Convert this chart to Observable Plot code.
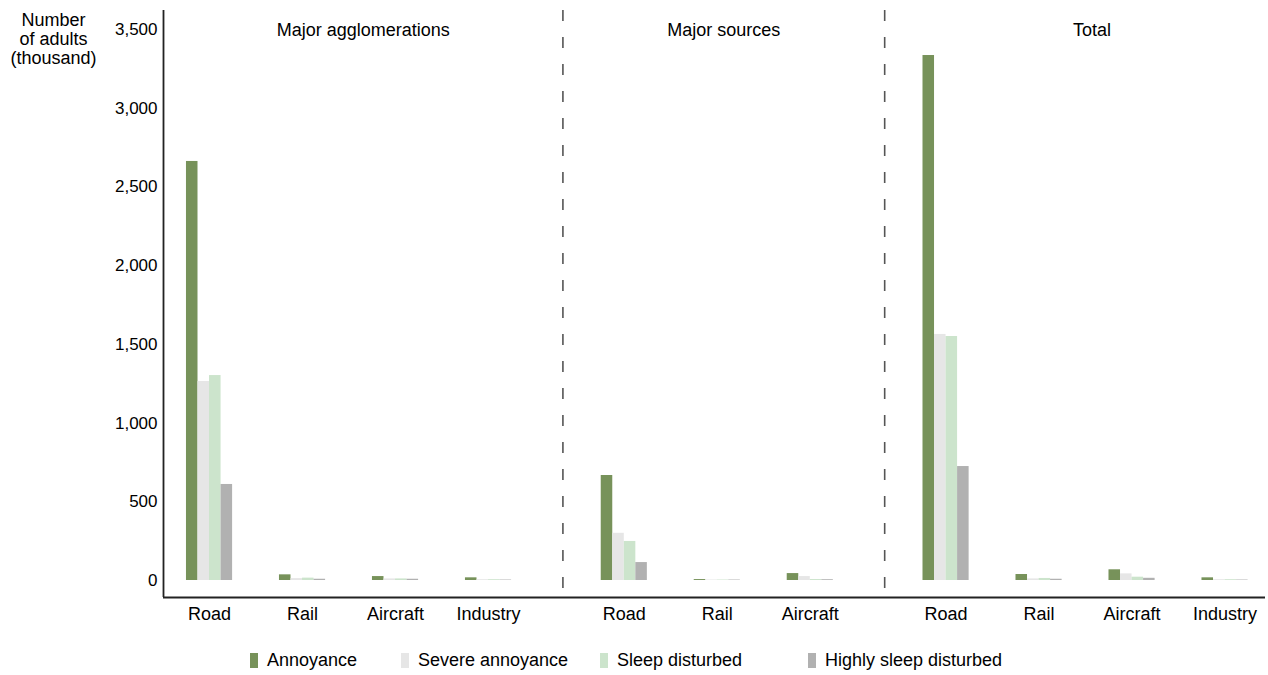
<!DOCTYPE html>
<html>
<head>
<meta charset="utf-8">
<script src="https://cdn.jsdelivr.net/npm/d3@7"></script>
<script src="https://cdn.jsdelivr.net/npm/@observablehq/plot@0.6"></script>
<style>
  html, body { margin: 0; padding: 0; background: #fff; }
  body { width: 1268px; height: 675px; overflow: hidden; font-family: "Liberation Sans", Arial, sans-serif; }
  #chart { position: relative; width: 1268px; }
  #legend { position: relative; height: 35px; width: 1268px; font-size: 18px; color: #000; }
  .item { position: absolute; top: 10px; display: flex; align-items: center; white-space: nowrap; }
  .sw { width: 8px; height: 15px; margin-right: 9px; }
</style>
</head>
<body>
<div id="chart"></div>
<div id="legend"></div>
<script>
// ---- data ----
const groups = ["Major agglomerations", "Major sources", "Total"];
const groupCategories = [
  ["Road", "Rail", "Aircraft", "Industry"],
  ["Road", "Rail", "Aircraft"],
  ["Road", "Rail", "Aircraft", "Industry"]
];
const series = ["Annoyance", "Severe annoyance", "Sleep disturbed", "Highly sleep disturbed"];
const colors = ["#77925a", "#e6e6e6", "#cce4cc", "#b1b1b1"];
// values in thousand, order: agglomerations (Road, Rail, Aircraft, Industry), sources (Road, Rail, Aircraft), total (Road, Rail, Aircraft, Industry)
const annoyance        = [2662, 36, 25, 17,  667, 6, 44,  3335, 38, 68, 17];
const severeAnnoyance  = [1264, 12, 10, 5,   300, 3, 25,  1563, 10, 42, 5];
const sleepDisturbed   = [1302, 15, 10, 5,   248, 3, 6,   1550, 13, 21, 5];
const highlySleepDist  = [610,  8,  8,  3,   114, 3, 5,   724,  8,  14, 3];
const yTicks = [0, 500, 1000, 1500, 2000, 2500, 3000, 3500];

// ---- build table ----
const valuesBySeries = [annoyance, severeAnnoyance, sleepDisturbed, highlySleepDist];
const groupGap = 0.46;     // extra slot spacing between panels
const barW = 0.124;        // bar width in slot units
const cats = [];
let idx = 0;
groups.forEach((g, gi) => {
  groupCategories[gi].forEach((c) => {
    cats.push({group: g, gi, category: c, pos: idx + gi * groupGap, k: cats.length});
    idx++;
  });
});
const bars = [];
cats.forEach((c) => {
  series.forEach((s, si) => {
    const x1 = c.pos + (si - 2) * barW;
    bars.push({series: s, x1, x2: x1 + barW, value: valuesBySeries[si][c.k]});
  });
});
// panel boundaries
const panels = groups.map((g, gi) => {
  const ps = cats.filter(c => c.gi === gi).map(c => c.pos);
  return {group: g, first: d3.min(ps), last: d3.max(ps)};
});
const xMin = panels[0].first - 0.495;
const xMax = panels[2].last + 0.435;
const dividers = panels.slice(0, -1).map(p => p.last + 0.8);
const edges = [xMin, ...dividers, panels[2].last + 0.8];
const titles = groups.map((g, gi) => ({group: g, x: (edges[gi] + edges[gi + 1]) / 2}));
const yMin = -108, yMax = 3621;

const chart = Plot.plot({
  width: 1268,
  height: 640,
  marginLeft: 163,
  marginRight: 3,
  marginTop: 10,
  marginBottom: 43,
  style: {fontFamily: "Liberation Sans, Arial, sans-serif", fontSize: "16px", color: "#000", background: "#fff"},
  x: {type: "linear", domain: [xMin, xMax], axis: null},
  y: {domain: [yMin, yMax], axis: null},
  color: {domain: series, range: colors},
  marks: [
    Plot.rectY(bars, {x1: "x1", x2: "x2", y1: 0, y2: "value", fill: "series"}),
    Plot.ruleX(dividers, {stroke: "#555", strokeWidth: 1.6, strokeDasharray: "11,16"}),
    Plot.ruleX([xMin], {stroke: "#222", strokeWidth: 1.8}),
    Plot.ruleY([yMin], {stroke: "#222", strokeWidth: 2}),
    Plot.axisY({ticks: yTicks, tickSize: 0, tickPadding: 6, tickFormat: d3.format(","), fontSize: 17, label: null}),
    Plot.text(cats, {x: "pos", y: yMin, text: "category", dy: 17, fontSize: 18, fill: "#000"}),
    Plot.text(titles, {x: "x", frameAnchor: "top", lineAnchor: "middle", dy: 20, text: "group", fontSize: 18, fill: "#000"}),
    Plot.text(["Number\nof adults\n(thousand)"], {frameAnchor: "top-left", dx: -110, dy: 28, textAnchor: "middle", lineAnchor: "middle", lineHeight: 1.06, fontSize: 18, fill: "#000"})
  ]
});
document.getElementById("chart").appendChild(chart);

// ---- legend ----
const legendLeft = [250, 401, 600, 808];
const legend = document.getElementById("legend");
series.forEach((s, i) => {
  const it = document.createElement("div");
  it.className = "item";
  it.style.left = legendLeft[i] + "px";
  const sw = document.createElement("span");
  sw.className = "sw";
  sw.style.background = colors[i];
  const t = document.createElement("span");
  t.textContent = s;
  it.appendChild(sw);
  it.appendChild(t);
  legend.appendChild(it);
});
</script>
</body>
</html>
